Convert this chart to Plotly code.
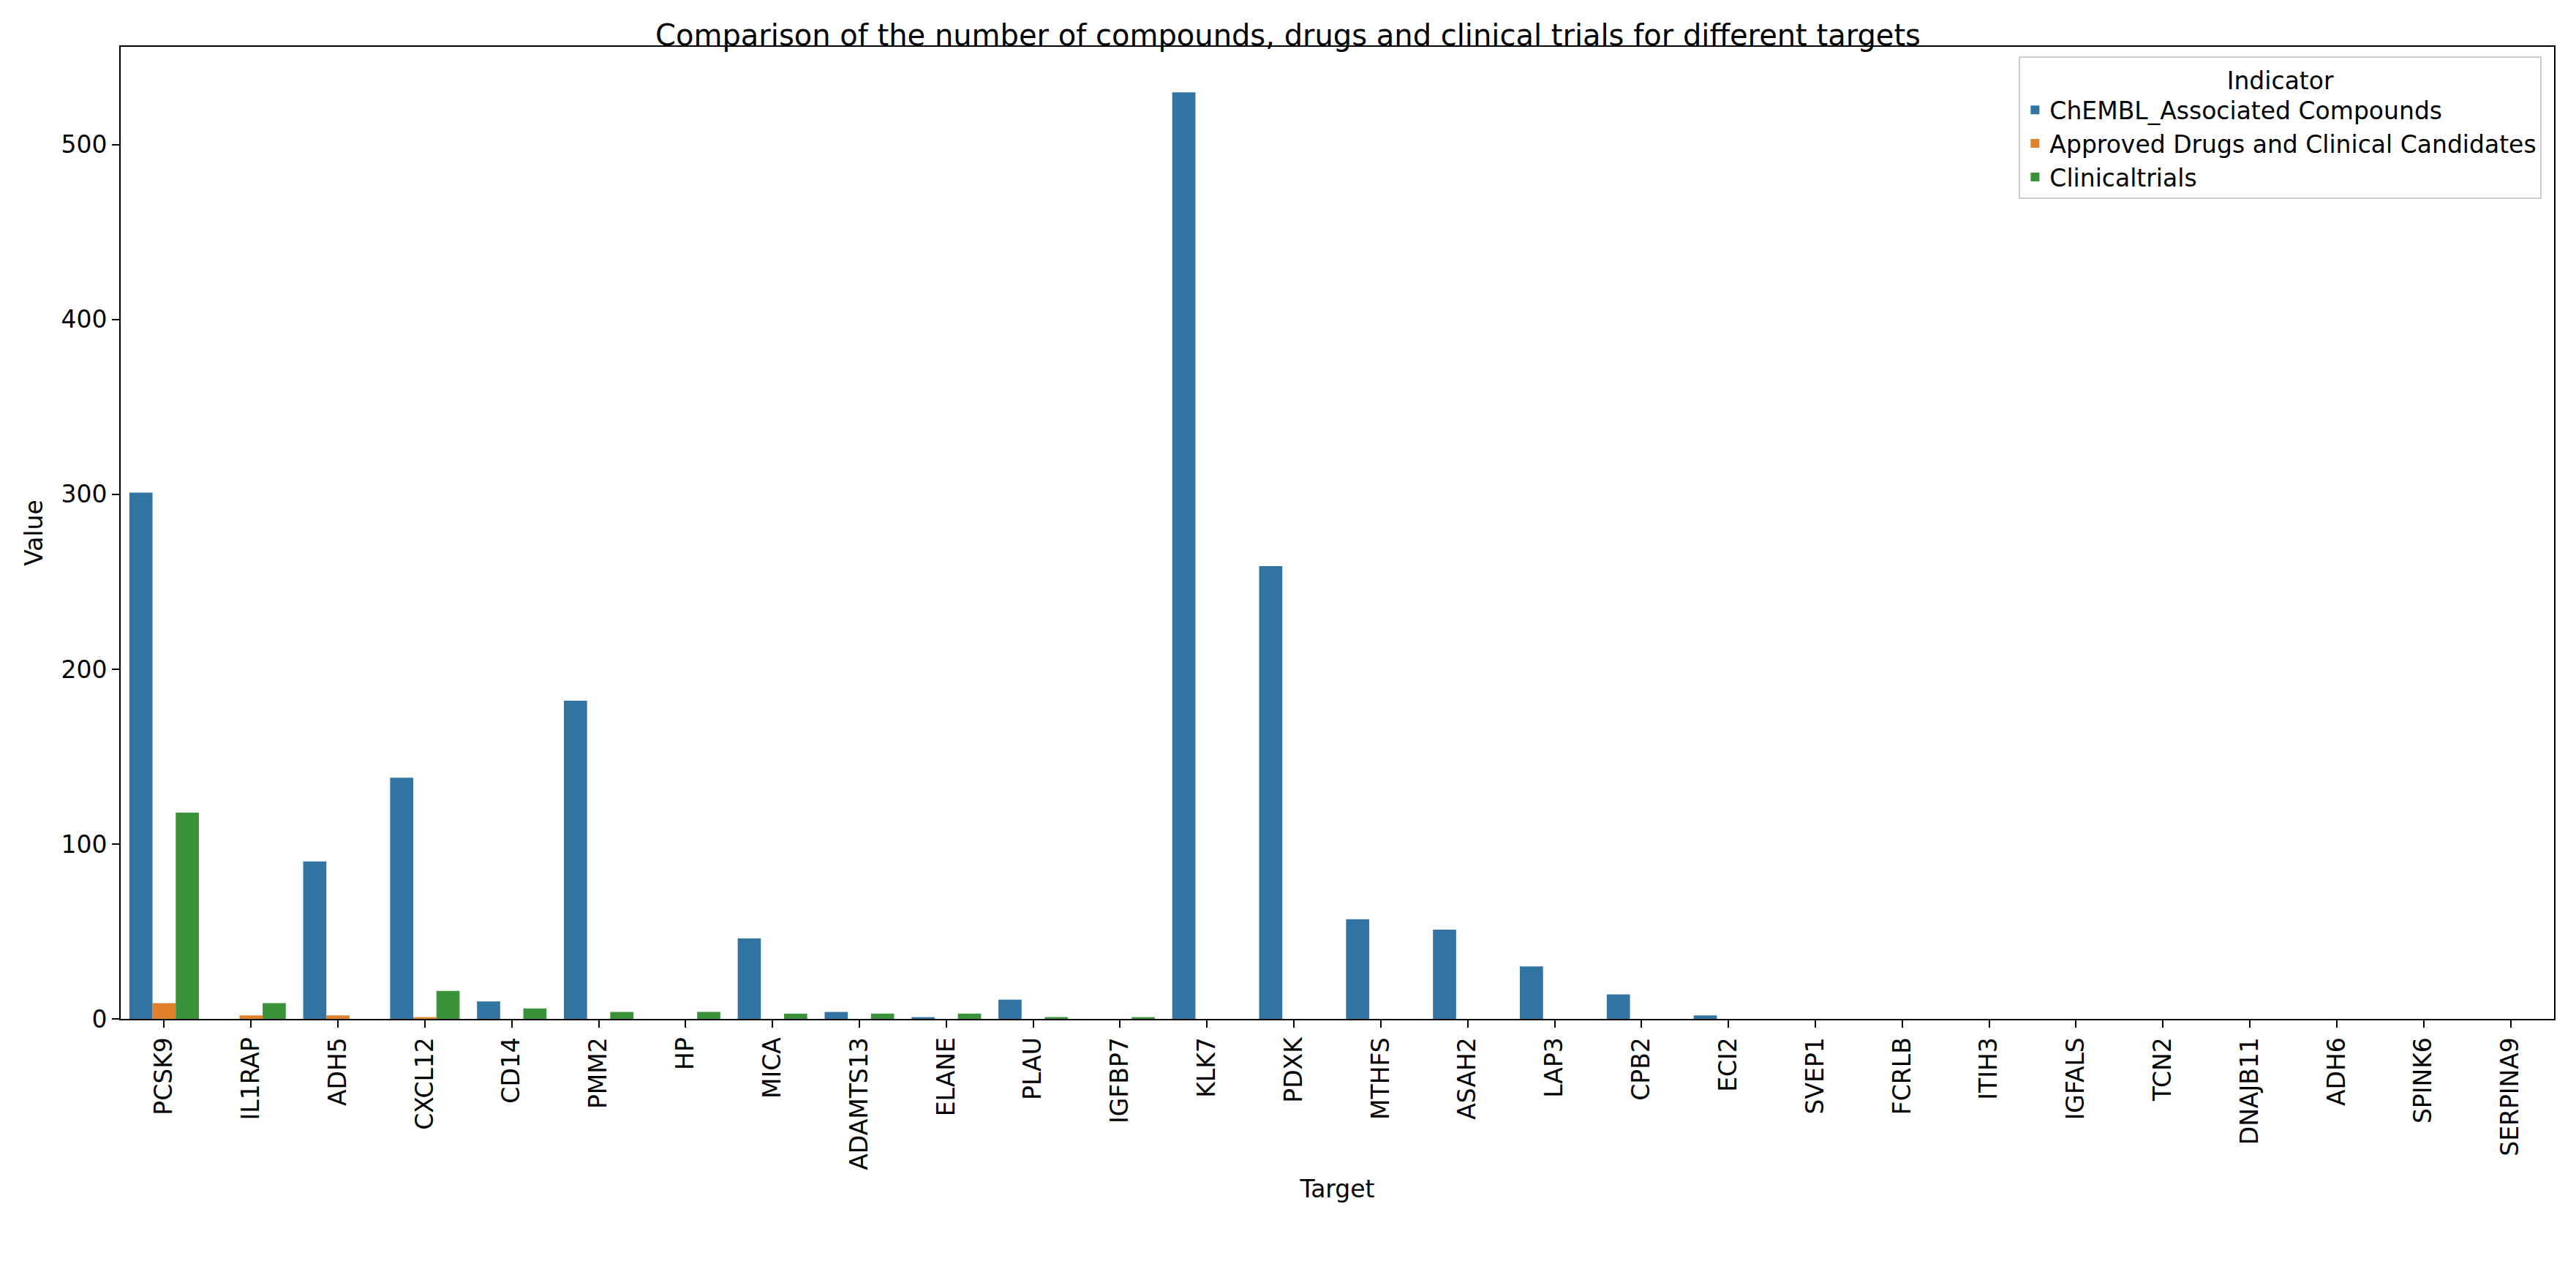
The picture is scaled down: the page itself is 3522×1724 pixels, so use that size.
import plotly.graph_objects as go

targets = ["PCSK9", "IL1RAP", "ADH5", "CXCL12", "CD14", "PMM2", "HP", "MICA", "ADAMTS13",
           "ELANE", "PLAU", "IGFBP7", "KLK7", "PDXK", "MTHFS", "ASAH2", "LAP3", "CPB2",
           "ECI2", "SVEP1", "FCRLB", "ITIH3", "IGFALS", "TCN2", "DNAJB11", "ADH6", "SPINK6", "SERPINA9"]
chembl = [301, 0, 90, 138, 10, 182, 0, 46, 4, 1, 11, 0, 530, 259, 57, 51, 30, 14,
          2, 0, 0, 0, 0, 0, 0, 0, 0, 0]
approved = [9, 2, 2, 1, 0, 0, 0, 0, 0, 0, 0, 0, 0, 0, 0, 0, 0, 0,
            0, 0, 0, 0, 0, 0, 0, 0, 0, 0]
trials = [118, 9, 0, 16, 6, 4, 4, 3, 3, 3, 1, 1, 0, 0, 0, 0, 0, 0,
          0, 0, 0, 0, 0, 0, 0, 0, 0, 0]

series = [("ChEMBL_Associated Compounds", chembl, "#3274a1"),
          ("Approved Drugs and Clinical Candidates", approved, "#e1812c"),
          ("Clinicaltrials", trials, "#3a923a")]

fig = go.Figure()
for name, vals, color in series:
    fig.add_trace(go.Bar(x=targets, y=vals, name=name, marker_color=color, marker_line_width=0))

axis_common = dict(showline=True, linecolor="black", linewidth=2, mirror=True,
                   ticks="outside", ticklen=10, tickwidth=2, tickcolor="black",
                   showgrid=False, zeroline=False, tickfont=dict(size=33, color="black"))
fig.update_xaxes(title=dict(text="Target", font=dict(size=33)), tickangle=-90, **axis_common)
fig.update_yaxes(title=dict(text="Value", font=dict(size=33)), range=[0, 556],
                 tickvals=[0, 100, 200, 300, 400, 500], **axis_common)

fig.update_layout(
    barmode="group", bargap=0.2, bargroupgap=0,
    title=dict(text="Comparison of the number of compounds, drugs and clinical trials for different targets",
               x=0.5, xanchor="center", y=0.985, font=dict(size=40, color="black")),
    font=dict(family="DejaVu Sans", color="black"),
    plot_bgcolor="white", paper_bgcolor="white",
    margin=dict(l=157, r=22, t=56, b=323),
    legend=dict(title=dict(text="Indicator", side="top center", font=dict(size=33)),
                x=0.995, y=0.99, xanchor="right", yanchor="top", itemsizing="constant",
                bordercolor="#cccccc", borderwidth=2, font=dict(size=33)),
)

fig.write_html("out.html")
